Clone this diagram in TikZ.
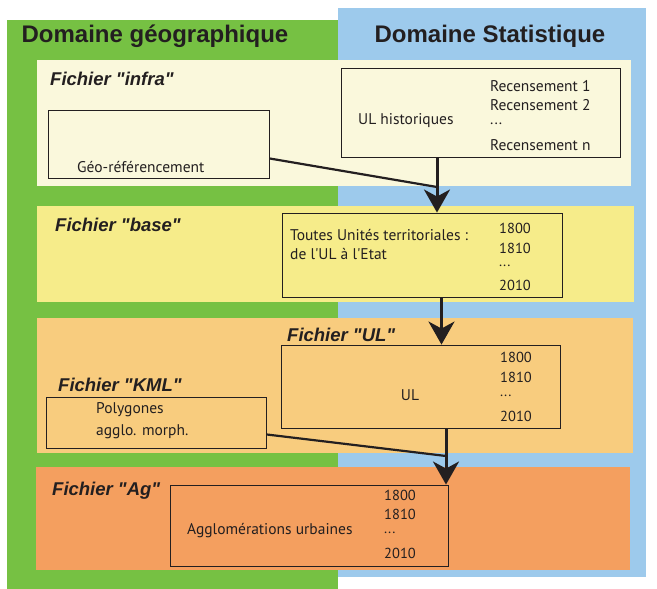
\documentclass[tikz,border=0pt]{standalone}
\usepackage{fontspec}
\setmainfont{Liberation Sans}
\newfontfamily\headfont{Liberation Sans}
\newfontfamily\boxfont{PT Sans}
\usetikzlibrary{arrows.meta,calc}
\definecolor{geogreen}{HTML}{76C143}
\definecolor{statblue}{HTML}{9DCAEC}
\definecolor{bandA}{HTML}{FAF8DC}
\definecolor{bandB}{HTML}{F6EC8A}
\definecolor{bandC}{HTML}{F8CC7E}
\definecolor{bandD}{HTML}{F49F5F}
\definecolor{ink}{HTML}{231F20}
\tikzset{
  title/.style={font=\headfont\bfseries\fontsize{24}{28}\selectfont, text=ink},
  fichier/.style={anchor=west, inner sep=0pt, font=\headfont\bfseries\itshape\fontsize{18.5}{21}\selectfont, text=ink},
  box/.style={draw=ink, line width=0.9pt, rectangle, inner sep=0pt},
  txt/.style={anchor=west, inner sep=0pt, font=\boxfont\fontsize{15.5}{18}\selectfont, text=ink},
  yr/.style={anchor=west, inner sep=0pt, font=\boxfont\fontsize{14.5}{17}\selectfont, text=ink},
  flow/.style={draw=ink, line width=3pt, -{Stealth[length=23pt,width=26pt,inset=7pt]}},
  joinline/.style={draw=ink, line width=2.2pt},
}
\begin{document}
\begin{tikzpicture}[x=1pt,y=-1pt]
\useasboundingbox (0,0) rectangle (657,589);
% domains
\fill[geogreen] (7,20) rectangle (338,589);
\fill[statblue] (338,8) rectangle (646,577);
\node[title] (tg) at (155,36) {Domaine géographique};
\node[title] (ts) at (490,36) {Domaine Statistique};
% bands
\fill[bandA] (37,60) rectangle (631,186);
\fill[bandB] (37,206) rectangle (634,302);
\fill[bandC] (37,318) rectangle (633,453);
\fill[bandD] (36,467) rectangle (630,570);
% band labels
\node[fichier] (f1) at (50,79) {Fichier "infra"};
\node[fichier] (f2) at (55,225) {Fichier "base"};
\node[fichier] (f3) at (287,335) {Fichier "UL"};
\node[fichier] (f4) at (58,385) {Fichier "KML"};
\node[fichier] (f5) at (52,491) {Fichier "Ag"};
% boxes
\node[box, minimum width=221pt, minimum height=68pt] (geo) at (158.5,144) {};
\node[box, minimum width=279pt, minimum height=89pt] (ulh) at (480.5,112.5) {};
\node[box, minimum width=280pt, minimum height=84pt] (base) at (422,255) {};
\node[box, minimum width=279pt, minimum height=83pt] (ul) at (420.5,386.5) {};
\node[box, minimum width=220pt, minimum height=51pt] (kml) at (156,422.5) {};
\node[box, minimum width=278pt, minimum height=81pt] (ag) at (309,525.5) {};
% texts
\node[txt] (t1) at (77,167) {Géo-référencement};
\node[txt] (t2) at (358,121) {UL historiques};
\node[txt] (r1) at (490,86) {Recensement 1};
\node[txt] (r2) at (490,105) {Recensement 2};
\node[txt] (r3) at (490,124) {...};
\node[txt] (r4) at (490,145) {Recensement n};
\node[txt] (t3) at (290,235) {Toutes Unités territoriales :};
\node[txt] (t4) at (290,254) {de l'UL à l'Etat};
\node[yr] (b1) at (499,228) {1800};
\node[yr] (b2) at (499,248) {1810};
\node[yr] (b3) at (499,266) {...};
\node[yr] (b4) at (499,285) {2010};
\node[txt, anchor=center] (t5) at (410,395) {UL};
\node[yr] (u1) at (500,357) {1800};
\node[yr] (u2) at (500,377) {1810};
\node[yr] (u3) at (500,396) {...};
\node[yr] (u4) at (500,416) {2010};
\node[txt] (t6) at (96,410) {Polygones};
\node[txt] (t7) at (96,432) {agglo. morph.};
\node[txt] (t8) at (187,531) {Agglomérations urbaines};
\node[yr] (a1) at (384,495) {1800};
\node[yr] (a2) at (384,514) {1810};
\node[yr] (a3) at (384,533) {...};
\node[yr] (a4) at (384,553) {2010};
% connectors
\coordinate (x1) at (437,0);
\coordinate (x2) at (441.5,0);
\coordinate (x3) at (446,0);
\coordinate (m1) at (437,187);
\coordinate (m2) at (446,456);
\draw[joinline] ($(geo.south east)+(0,-20)$) -- (m1);
\draw[flow] (x1 |- ulh.south) -- (x1 |- base.north);
\draw[flow] (x2 |- base.south) -- (x2 |- ul.north);
\draw[joinline] ($(kml.south east)+(0,-14)$) -- (m2);
\draw[flow] (x3 |- ul.south) -- (x3 |- ag.north);
\end{tikzpicture}
\end{document}
